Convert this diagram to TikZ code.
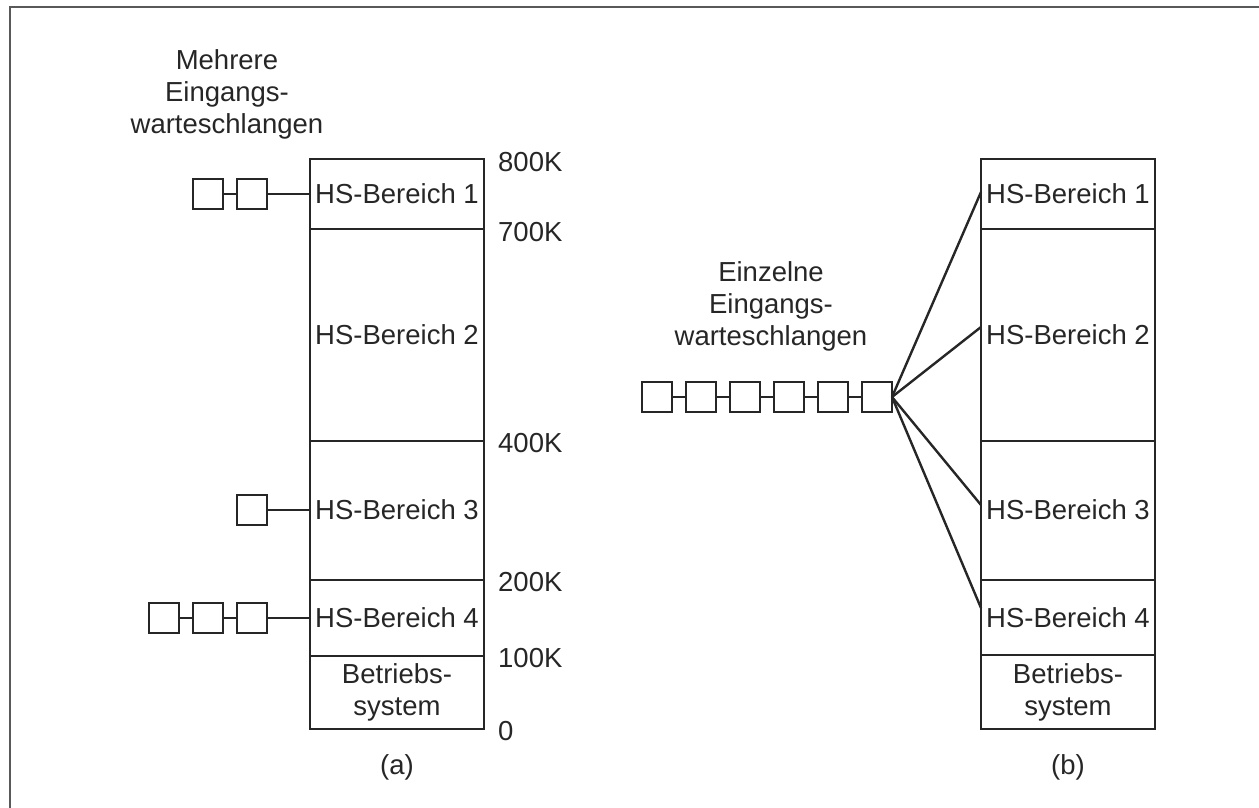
\documentclass[tikz,border=0pt]{standalone}
\usepackage{fontspec}
\setmainfont{Liberation Sans}
\begin{document}
\begin{tikzpicture}[x=1pt,y=-1pt,
  ln/.style={line width=2.4pt,black!85},
  lbl/.style={font=\fontsize{27.5}{32}\selectfont,inner sep=0pt,text=black!85},
  addr/.style={lbl,anchor=west},
  qbox/.style={draw=black!85,line width=2.4pt,minimum width=30pt,minimum height=30pt,inner sep=0pt},
  multi/.style={lbl,align=center}]
\useasboundingbox (0,0) rectangle (1259,808);
% frame (partially visible)
\draw[gray!70!black,line width=1.8pt] (10,808) -- (10,7) -- (1259,7);

% ---------- (a) ----------
\draw[ln] (310,159) rectangle (484,729);
\foreach \y in {229,441,580,656} \draw[ln] (310,\y) -- (484,\y);
\node[lbl] (a1) at (397,194) {HS-Bereich 1};
\node[lbl] (a2) at (397,335) {HS-Bereich 2};
\node[lbl] (a3) at (397,510) {HS-Bereich 3};
\node[lbl] (a4) at (397,618) {HS-Bereich 4};
\node[multi] (aos) at (397,692) {Betriebs-\\system};
\coordinate (a1e) at (310,194);
\coordinate (a3e) at (310,510);
\coordinate (a4e) at (310,618);

\node[addr] (k800) at (498,162) {800K};
\node[addr] (k700) at (498,232) {700K};
\node[addr] (k400) at (498,443) {400K};
\node[addr] (k200) at (498,582) {200K};
\node[addr] (k100) at (498,658) {100K};
\node[addr] (k0) at (498,731) {0};

\node[multi] (mehr) at (227,94) {Mehrere\\Eingangs-\\warteschlangen};

% queue 1
\node[qbox] (q11) at (208,194) {};
\node[qbox] (q12) at (252,194) {};
\draw[ln] (q11) -- (q12);
\draw[ln] (q12) -- (a1e);
% queue 3
\node[qbox] (q31) at (252,510) {};
\draw[ln] (q31) -- (a3e);
% queue 4
\node[qbox] (q41) at (164,618) {};
\node[qbox] (q42) at (208,618) {};
\node[qbox] (q43) at (252,618) {};
\draw[ln] (q41) -- (q42);
\draw[ln] (q42) -- (q43);
\draw[ln] (q43) -- (a4e);

\node[lbl] (la) at (397,767) {(a)};

% ---------- (b) ----------
\draw[ln] (981,159) rectangle (1155,729);
\foreach \y in {229,441,580,655} \draw[ln] (981,\y) -- (1155,\y);
\node[lbl] (b1) at (1068,194) {HS-Bereich 1};
\node[lbl] (b2) at (1068,335) {HS-Bereich 2};
\node[lbl] (b3) at (1068,510) {HS-Bereich 3};
\node[lbl] (b4) at (1068,618) {HS-Bereich 4};
\node[multi] (bos) at (1068,692) {Betriebs-\\system};
\coordinate (b1e) at (981,192);
\coordinate (b2e) at (981,327);
\coordinate (b3e) at (981,505);
\coordinate (b4e) at (981,608);

\node[multi] (einz) at (771,306) {Einzelne\\Eingangs-\\warteschlangen};

\foreach \i/\x in {1/657,2/701,3/745,4/789,5/833,6/877}
  \node[qbox] (r\i) at (\x,397) {};
\foreach \i/\j in {1/2,2/3,3/4,4/5,5/6} \draw[ln] (r\i) -- (r\j);
\coordinate (fan) at (892,397);
\foreach \t in {b1e,b2e,b3e,b4e} \draw[ln] (fan) -- (\t);

\node[lbl] (lb) at (1068,767) {(b)};
\end{tikzpicture}
\end{document}
